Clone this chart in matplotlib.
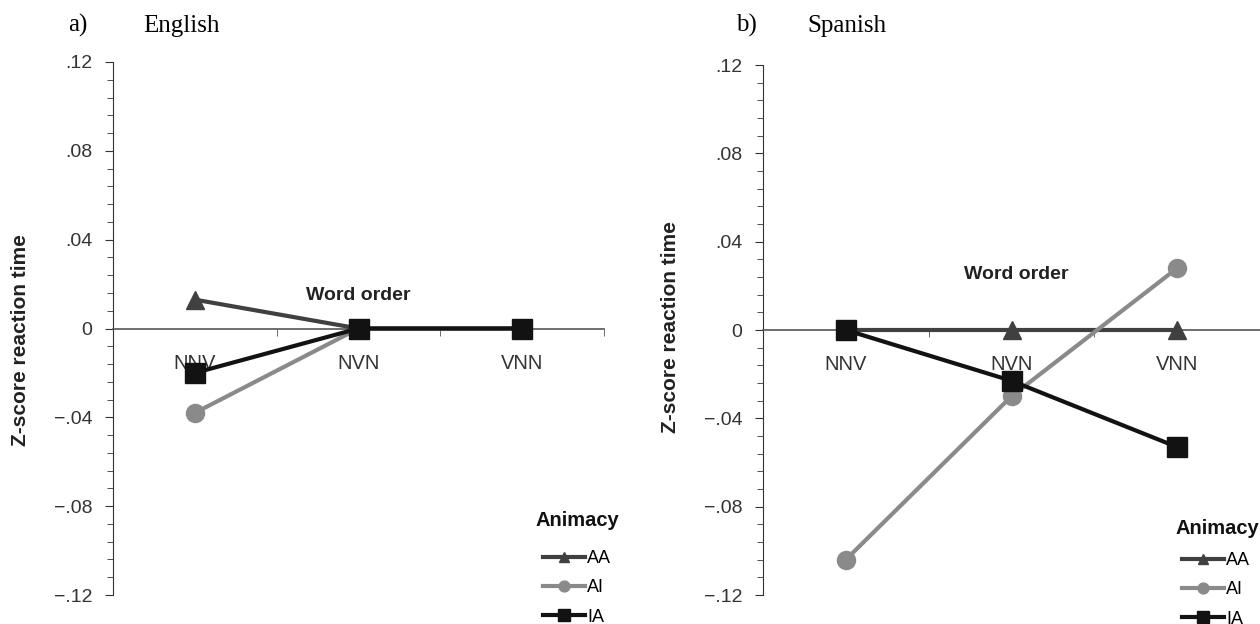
import matplotlib
matplotlib.use("Agg")
import matplotlib.pyplot as plt
from matplotlib.ticker import FixedLocator, MultipleLocator, FuncFormatter

# data
word_orders = ["NNV", "NVN", "VNN"]
series = ["AA", "AI", "IA"]
english_aa = [0.013, 0.0, 0.0]
english_ai = [-0.038, 0.0, 0.0]
english_ia = [-0.020, 0.0, 0.0]
spanish_aa = [0.0, 0.0, 0.0]
spanish_ai = [-0.104, -0.030, 0.028]
spanish_ia = [0.0, -0.023, -0.053]
yticks = [-0.12, -0.08, -0.04, 0.0, 0.04, 0.08, 0.12]

colors = {"AA": "#404040", "AI": "#8a8a8a", "IA": "#121212"}
markers = {"AA": "^", "AI": "o", "IA": "s"}
msizes = {"AA": 13, "AI": 13, "IA": 14}

plt.rcParams["font.family"] = ["Liberation Sans", "DejaVu Sans"]


def fmt(v, pos):
    if abs(v) < 1e-9:
        return "0"
    s = f"{abs(v):.2f}".lstrip("0")
    return ("\u2212" if v < 0 else "") + s


def draw_panel(ax, data, label_xy, word_xy, title_xy, legend_anchor):
    x = range(len(word_orders))
    for name in series:
        ax.plot(x, data[name], color=colors[name], lw=3, marker=markers[name],
                ms=msizes[name], label=name, zorder=3 if name != "IA" else 4,
                clip_on=False)
    ax.set_xlim(-0.5, 2.5)
    ax.set_ylim(-0.12, 0.12)
    ax.spines["top"].set_visible(False)
    ax.spines["right"].set_visible(False)
    ax.spines["bottom"].set_position(("data", 0))
    ax.spines["bottom"].set_color("#555555")
    ax.spines["left"].set_color("#333333")
    ax.spines["bottom"].set_linewidth(1.2)
    ax.set_xticks(list(x))
    ax.set_xticklabels(word_orders, fontsize=14.5, color="#333333")
    ax.tick_params(axis="x", which="major", length=0, pad=18)
    ax.xaxis.set_minor_locator(FixedLocator([0.5, 1.5, 2.5]))
    ax.tick_params(axis="x", which="minor", length=5, direction="out", color="#555555")
    ax.set_yticks(yticks)
    ax.yaxis.set_major_formatter(FuncFormatter(fmt))
    ax.yaxis.set_minor_locator(MultipleLocator(0.008))
    ax.tick_params(axis="y", which="major", length=6, pad=9, labelsize=14, colors="#333333")
    ax.tick_params(axis="y", which="minor", length=4, color="#333333")
    ax.set_ylabel("Z-score reaction time", fontsize=15, fontweight="bold", color="#222222")
    ax.yaxis.set_label_coords(*label_xy)
    ax.text(word_xy[0], word_xy[1], "Word order", fontsize=14, fontweight="bold",
            ha="center", va="center", color="#222222")
    fig = ax.figure
    fig.text(title_xy[0], title_xy[1], "Animacy", fontsize=14.5, fontweight="bold",
             ha="left", va="center", color="#111111")
    leg = ax.legend(loc="upper left", bbox_to_anchor=legend_anchor,
                    bbox_transform=fig.transFigure, frameon=False,
                    fontsize=13, markerscale=0.6,
                    handlelength=2.3, handletextpad=0.15, labelspacing=0.68,
                    borderpad=0, borderaxespad=0)
    for line in leg.get_lines():
        line.set_linewidth(3)


fig = plt.figure(figsize=(12.6, 6.24), dpi=100)
ax1 = fig.add_axes([113 / 1260, 1 - 595 / 624, 491 / 1260, 533 / 624])
ax2 = fig.add_axes([763 / 1260, 1 - 595 / 624, 497 / 1260, 530 / 624])

draw_panel(ax1, {"AA": english_aa, "AI": english_ai, "IA": english_ia},
           (-0.169, 0.478), (1.0, 0.0149),
           (536 / 1260, 1 - 520 / 624), (543 / 1260, 1 - 550 / 624))
draw_panel(ax2, {"AA": spanish_aa, "AI": spanish_ai, "IA": spanish_ia},
           (-0.167, 0.506), (1.03, 0.025),
           (1175 / 1260, 1 - 528 / 624), (1182 / 1260, 1 - 552 / 624))

serif = ["Liberation Serif", "DejaVu Serif"]
base = 1 - 32 / 624
fig.text(68 / 1260, base, "a)", family=serif, fontsize=18, va="baseline")
fig.text(143 / 1260, base, "English", family=serif, fontsize=18, va="baseline")
fig.text(736 / 1260, base, "b)", family=serif, fontsize=18, va="baseline")
fig.text(807 / 1260, base, "Spanish", family=serif, fontsize=18, va="baseline")

fig.savefig("out.png", dpi=100)
